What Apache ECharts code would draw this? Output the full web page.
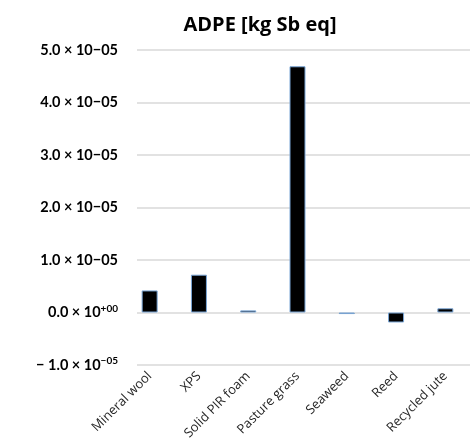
<!DOCTYPE html>
<html><head><meta charset="utf-8">
<script src="https://cdn.jsdelivr.net/npm/echarts@6/dist/echarts.min.js"></script>
<style>html,body{margin:0;padding:0;background:#fff}#c{width:470px;height:445px}</style>
</head><body><div id="c"></div>
<script>
const categories = ["Mineral wool","XPS","Solid PIR foam","Pasture grass","Seaweed","Reed","Recycled jute"];
const values = [0.42e-5, 0.72e-5, 0.04e-5, 4.69e-5, -0.03e-5, -0.19e-5, 0.08e-5];
const yMin = -1e-5, yMax = 5e-5, yStep = 1e-5;

function fmt(v){
  const n = Math.round(v / 1e-5);
  if (n === 0) return '{b|0.0 × 10}{s|+00}';
  if (n < 0) return '{b|− ' + Math.abs(n).toFixed(1) + ' × 10}{s|−05}';
  return '{b|' + n.toFixed(1) + ' × 10−05}';
}
const chart = echarts.init(document.getElementById('c'));
chart.setOption({
  animation:false,
  title:{text:'ADPE [kg Sb eq]', left:255, top:10, textAlign:'center',
    textStyle:{fontFamily:'Open Sans', fontWeight:'bold', fontSize:20, color:'#000'}},
  grid:[
    {left:125, width:352, top:50, bottom:80},
    {left:137, right:0, top:50, bottom:80}
  ],
  xAxis:[
    {type:'category', gridIndex:0, data:categories,
      axisLine:{show:false}, axisTick:{show:false},
      axisLabel:{rotate:45, interval:0, margin:9, color:'#262626', fontFamily:'Open Sans', fontSize:13}},
    {type:'value', gridIndex:1, show:false}
  ],
  yAxis:[
    {type:'value', gridIndex:0, min:yMin, max:yMax, interval:yStep, show:false, splitLine:{show:false}},
    {type:'value', gridIndex:1, min:yMin, max:yMax, interval:yStep,
      axisLine:{show:false}, axisTick:{show:false},
      splitLine:{lineStyle:{color:'#d9d9d9', width:1.5}},
      axisLabel:{margin:19, formatter:fmt,
        rich:{
          b:{fontFamily:'Lato', fontWeight:'bold', fontSize:14.5, color:'#000'},
          s:{fontFamily:'Lato', fontWeight:'bold', fontSize:10, color:'#000', verticalAlign:'top', padding:[0,0,8,0]}
        }}}
  ],
  series:[{
    type:'bar', xAxisIndex:0, yAxisIndex:0, data:values, barWidth:16, z:3,
    itemStyle:{color:'#000', borderColor:'#7aa6d6', borderWidth:1}
  }]
});
</script></body></html>
